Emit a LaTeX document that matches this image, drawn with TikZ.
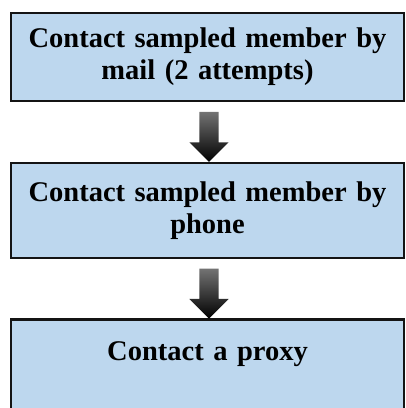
\documentclass[tikz,border=0pt]{standalone}
\usepackage{fontspec}
\setmainfont{Liberation Serif}
\usetikzlibrary{positioning,shapes.arrows,calc}
\definecolor{stageblue}{RGB}{189,215,238}
\definecolor{stageline}{RGB}{20,20,20}

\begin{document}
\begin{tikzpicture}[x=1pt, y=1pt,
            node distance=59pt,
            stage/.style={rectangle, draw=stageline, fill=stageblue, line width=2.2pt, minimum width=393pt, text width=380pt, align=center, inner sep=0pt, font=\fontsize{28.5}{32}\selectfont\bfseries},
            downarrow/.style={single arrow, shape border rotate=270, draw=none, top color=black!55, bottom color=black, minimum height=50pt, minimum width=39pt, text width=19pt, text height=9.5pt, text depth=9.5pt, single arrow head extend=10pt, inner sep=0pt}
        ]
        \clip (0,0) rectangle (406,-408);
        \node[stage, minimum height=88pt] (mail) at (207.5,-57) {Contact sampled member by\\mail (2 attempts)};
        \node[stage, minimum height=95pt, below=60pt of mail] (phone) {Contact sampled member by\\phone};
        \node[stage, minimum height=95pt, below=of phone] (proxy) {Contact a proxy\\\mbox{}};
        
        \node[downarrow] (mailphone) at ($(mail.south)!0.5!(phone.north)+(1.5,0)$) {};
        \node[downarrow] (phoneproxy) at ($(phone.south)!0.5!(proxy.north)+(1.5,0)$) {};
        \end{tikzpicture}
\end{document}
